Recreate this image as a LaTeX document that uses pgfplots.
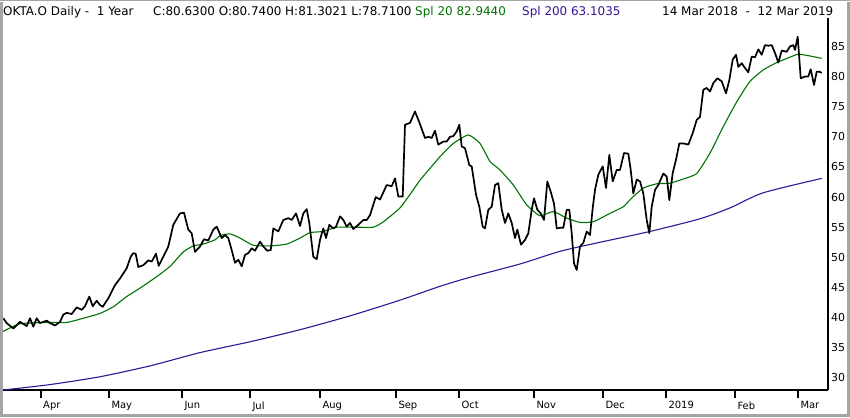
\documentclass[border=0pt]{standalone}
\usepackage{pgfplots}
\pgfplotsset{compat=1.18}
\usepackage{fontspec}
\setmainfont{DejaVu Sans}
\definecolor{smagreen}{RGB}{0,115,0}
\definecolor{smapurple}{RGB}{55,20,150}
\definecolor{framegray}{RGB}{165,165,165}
\begin{document}
\begin{tikzpicture}[x=1bp,y=1bp]
\useasboundingbox (0,0) rectangle (850,417);
\fill[white] (0,0) rectangle (850,417);
\begin{axis}[at={(3bp,27bp)}, anchor=south west, scale only axis,
  width=825bp, height=372bp,
  xmin=3, xmax=828, ymin=28, ymax=89.7,
  axis x line=bottom, axis y line=right,
  axis line style={line width=2bp,-},
  xtick={40.7,109,182,250,320,396,459,534,603,666,735,798},
  xticklabels={Apr,May,Jun,Jul,Aug,Sep,Oct,Nov,Dec,2019,Feb,Mar},
  ytick={30,35,...,85},
  tick align=outside, major tick length=8bp,
  xtick style={line width=2bp,black},
  ytick style={draw=none},
  xticklabel style={font=\fontsize{10}{12}\selectfont, anchor=north west, xshift=-1bp},
  yticklabel style={font=\fontsize{11}{13}\selectfont, anchor=west, xshift=-8.5bp},
  /pgf/number format/assume math mode=true,
]
\addplot[smapurple, line width=1.1bp, smooth, tension=0.4] coordinates {
(3,28.0) (50,28.9) (100,30.2) (150,32.0) (200,34.2) (250,36.0) (300,38.0)
(350,40.3) (400,42.9) (440,45.2) (470,46.7) (520,48.9) (560,51.0) (600,52.5)
(650,54.3) (700,56.4) (730,58.2) (763,60.7) (821.7,63.1)
};
\addplot[smagreen, line width=1.1bp, smooth, tension=0.3] coordinates {
(3,37.7) (20,39.0) (50,39.2) (66.7,39.2) (83.3,39.9) (100,40.7) (113.3,41.8)
(126.7,43.5) (140,44.9) (156.7,46.8) (170,48.5) (183.3,50.9) (193.3,51.9)
(203.3,52.2) (215,52.9) (220,53.6) (230,53.9) (240,53.2) (253.3,52.0)
(270,51.9) (286.7,52.2) (300,53.2) (310,54.1) (323.3,54.3) (336.7,55.0)
(356.7,55.0) (373.3,55.0) (383.3,55.9) (400,58.2) (413.3,61.2) (420,62.8)
(440,66.7) (453.3,68.9) (468.3,70.3) (480,68.9) (490,65.9) (500,64.5)
(513.3,62.0) (526.7,58.7) (540,56.9) (553.3,57.6) (566.7,56.5) (580,55.8)
(593.3,55.9) (610,57.3) (623.3,58.4) (631.5,59.8) (643.3,61.5) (656.7,62.2)
(670,62.3) (683.3,63.0) (696.7,63.9) (710,67.3) (723.3,71.7) (736.7,75.8)
(750,79.2) (763.3,81.1) (776.7,82.3) (790,83.2) (798.3,83.7) (810,83.4)
(821.7,83.0)
};
\addplot[black, line width=1.7bp, line join=round] coordinates {
(3.3,39.9) (6.7,39.1) (13.3,38.2) (20,39.3) (26.7,38.6) (30,39.9) (33.3,38.5)
(36.7,39.9) (40,39.1) (46.7,39.5) (50,39.1) (55,38.7) (60,39.3) (63.3,40.5)
(66.7,40.8) (71.7,40.6) (76.7,41.7) (81.7,41.3) (85,41.9) (89.3,43.5)
(92.7,41.9) (96.7,42.8) (100,42.1) (102.7,41.8) (108.3,43.2) (115,45.4)
(120,46.5) (126.7,48.2) (130.7,50.1) (133.3,50.7) (135.7,50.6) (138.3,48.4)
(143.3,48.7) (148.3,49.5) (151.7,49.3) (156,50.6) (158.7,48.6) (163.3,50.1)
(168.3,51.8) (173.3,55.4) (180,57.3) (184,57.4) (188.3,54.6) (191.7,54.0)
(195,50.9) (200,51.8) (204,53.0) (208.3,52.8) (213.3,54.6) (216.7,55.1)
(221.7,53.2) (225,53.7) (228.3,53.2) (231.7,51.2) (235,49.1) (238.3,49.6)
(241.7,48.5) (245,50.4) (248.3,50.7) (251.7,51.5) (255,51.1) (260,52.6)
(263.3,51.8) (267.3,51.1) (270.7,51.2) (273.3,54.8) (278.3,54.3) (283.3,56.2)
(288.3,56.5) (291.7,56.2) (296,57.3) (300,55.2) (303.3,57.3) (306.7,58.0)
(309.3,55.7) (313.3,50.1) (316.7,49.7) (320,52.9) (323.3,54.8) (326,53.2)
(329.3,55.4) (333.3,54.8) (336,55.1) (340,56.8) (343.3,56.2) (346.7,55.1)
(350,55.7) (353.3,54.7) (358.3,55.4) (363.3,56.2) (366.7,56.2) (370,57.0)
(375.7,60.0) (380,59.6) (386.7,62.0) (391.7,61.8) (395,63.1) (398.3,60.1)
(402.7,60.1) (405,72.0) (410,72.3) (415,74.2) (419.3,72.4) (425,69.8)
(428.3,70.0) (431.7,69.8) (435,71.0) (438.3,68.7) (443.3,69.2) (446.7,69.2)
(450,70.0) (453.3,70.1) (456.7,70.9) (459.3,72.0) (461.7,68.4) (465,68.1)
(469.3,65.3) (471.7,65.1) (476,60.4) (479.3,58.4) (482.7,55.1) (485,54.8)
(488.3,57.9) (491.7,58.4) (495,62.0) (498.3,62.3) (501.7,57.9) (505,55.7)
(508.3,57.3) (511.7,55.7) (515,53.2) (517.3,54.6) (521,52.1) (525,52.9)
(528.3,54.0) (531.7,57.9) (534,59.8) (537.3,57.9) (540.7,57.3) (544,56.2)
(547.3,62.6) (550.7,60.9) (554,58.9) (556.7,54.8) (560,54.9) (563.3,54.9)
(566.7,57.9) (569.3,57.9) (571.7,54.0) (574,49.0) (576.7,47.9) (580,51.8)
(583.3,52.4) (586.7,54.3) (590,53.7) (592.7,58.2) (595,61.2) (598.3,63.7)
(602.7,65.1) (606,61.5) (609.3,67.0) (612.7,62.6) (616.7,64.5) (620,64.5)
(624,67.3) (628.3,67.2) (630.7,64.5) (633.3,60.6) (636.7,62.9) (640,62.6)
(643.3,60.6) (646.7,56.2) (649.3,54.0) (651.7,58.4) (655,61.2) (658.3,62.0)
(663.3,63.9) (666.7,63.4) (669.3,59.5) (672.7,64.0) (676,66.2) (679.3,68.9)
(683.3,68.9) (688.3,68.7) (692.7,70.6) (696.7,72.8) (700,73.3) (703.3,77.8)
(706.7,78.1) (710,77.5) (713.3,78.9) (717.3,79.7) (721.7,79.2) (726,77.2)
(729.3,79.4) (732.7,82.8) (736,83.6) (738.3,81.6) (741.7,82.2) (745,81.4)
(748.3,80.7) (751.7,83.3) (755,83.2) (758.3,84.5) (761.7,83.6) (765,85.2)
(768.3,85.1) (771.7,85.2) (775,83.9) (778.3,82.3) (781.7,84.3) (786.7,84.1)
(790,85.0) (793.3,85.2) (795,84.4) (797.7,86.6) (800.7,79.7) (805,80.0)
(808.3,80.0) (810.7,81.2) (814,78.6) (816.7,80.8) (819.3,80.8) (821.7,80.6)
};
\end{axis}
\begin{scope}[every node/.style={anchor=base west, inner sep=0pt, font=\fontsize{12}{14}\selectfont}]
\node at (3,401) {OKTA.O Daily -\ \ 1 Year};
\node at (153,401) {C:80.6300 O:80.7400 H:81.3021 L:78.7100};
\node[text=smagreen] at (415,401) {Spl 20 82.9440};
\node[text=smapurple] at (522,401) {Spl 200 63.1035};
\node at (662,401) {14 Mar 2018\ \ -\ \ 12 Mar 2019};
\end{scope}
\draw[framegray, line width=3bp] (1.5,415) -- (1.5,1.5) -- (848.5,1.5) -- (848.5,415);
\draw[framegray, line width=1.5bp] (0,416.25) -- (850,416.25);
\end{tikzpicture}
\end{document}
